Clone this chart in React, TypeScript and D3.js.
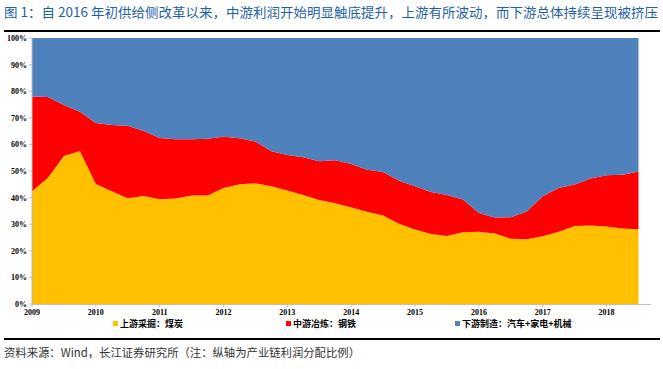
import React from "react";
import * as d3 from "d3";

const quarters = [
  "2009Q1","2009Q2","2009Q3","2009Q4","2010Q1","2010Q2","2010Q3","2010Q4",
  "2011Q1","2011Q2","2011Q3","2011Q4","2012Q1","2012Q2","2012Q3","2012Q4",
  "2013Q1","2013Q2","2013Q3","2013Q4","2014Q1","2014Q2","2014Q3","2014Q4",
  "2015Q1","2015Q2","2015Q3","2015Q4","2016Q1","2016Q2","2016Q3","2016Q4",
  "2017Q1","2017Q2","2017Q3","2017Q4","2018Q1","2018Q2","2018Q3",
];
const yearTicks = ["2009","2010","2011","2012","2013","2014","2015","2016","2017","2018"];
const yTicks = [0, 10, 20, 30, 40, 50, 60, 70, 80, 90, 100];

// 上游采掘：煤炭
const upstream = [
  42.4, 47.5, 55.6, 57.5, 45.1, 42.4, 39.8, 40.6, 39.4, 39.7, 40.8, 40.8, 43.6,
  45.0, 45.4, 44.3, 42.7, 41.0, 39.1, 37.9, 36.3, 34.7, 33.3, 30.2, 28.0, 26.3,
  25.6, 27.0, 27.2, 26.5, 24.5, 24.3, 25.5, 27.2, 29.3, 29.5, 29.1, 28.4, 28.1,
];
// 中游冶炼：钢铁
const midstream = [
  35.6, 30.3, 19.2, 14.8, 22.9, 24.9, 27.2, 24.4, 23.0, 22.2, 21.1, 21.3, 19.3,
  17.3, 15.7, 13.1, 13.3, 14.2, 14.6, 16.1, 16.3, 15.8, 16.3, 16.1, 16.3, 15.8,
  15.4, 12.3, 7.0, 6.0, 8.1, 10.5, 15.0, 16.4, 15.6, 17.7, 19.3, 20.2, 21.7,
];
// 下游制造：汽车+家电+机械
const downstream = [
  22.0, 22.2, 25.2, 27.7, 32.0, 32.7, 33.0, 35.0, 37.6, 38.1, 38.1, 37.9, 37.1,
  37.7, 38.9, 42.6, 44.0, 44.8, 46.3, 46.0, 47.4, 49.5, 50.4, 53.7, 55.7, 57.9,
  59.0, 60.7, 65.8, 67.5, 67.4, 65.2, 59.5, 56.4, 55.1, 52.8, 51.6, 51.4, 50.2,
];

const seriesNames = ["上游采掘：煤炭", "中游冶炼：钢铁", "下游制造：汽车+家电+机械"];
const seriesKeys = ["up", "mid", "down"];
const colors = ["#FFC000", "#FF0000", "#4F81BD"];

const title = "图 1：自 2016 年初供给侧改革以来，中游利润开始明显触底提升，上游有所波动，而下游总体持续呈现被挤压";
const source = "资料来源：Wind，长江证券研究所（注：纵轴为产业链利润分配比例）";

export default function App() {
  const W = 663, H = 369;
  const left = 32, bottom = 304, top = 38;
  const rows = quarters.map((q, i) => ({ q, up: upstream[i], mid: midstream[i], down: downstream[i] }));
  const stack = d3.stack<any>().keys(seriesKeys);
  const layers = stack(rows);
  const x = d3.scaleLinear().domain([0, quarters.length - 1]).range([left, 638.5]);
  const y = d3.scaleLinear().domain([0, 100]).range([bottom, top]);
  const area = d3.area<any>()
    .x((_d, i) => x(i))
    .y0((d) => y(d[0]))
    .y1((d) => y(d[1]));
  const serif = "'Liberation Serif', 'Times New Roman', serif";
  const cjk = "'Noto Sans CJK SC', 'Noto Sans', sans-serif";
  const legendX = [113, 286, 455];

  return (
    <svg width={W} height={H} style={{ position: "absolute", left: 0, top: 0, background: "#fff" }}>
      <text x={4} y={17} fontFamily={cjk} fontSize={13} fill="#1F5FA6" textLength={654} lengthAdjust="spacingAndGlyphs">{title}</text>
      <line x1={4} x2={660} y1={31} y2={31} stroke="#000" strokeWidth={2} />

      {layers.map((layer, k) => (
        <path key={k} d={area(layer as any) || ""} fill={colors[k]} />
      ))}

      <line x1={left} x2={left} y1={top} y2={bottom} stroke="#BFBFBF" strokeWidth={1} />
      <line x1={left} x2={651} y1={bottom + 0.5} y2={bottom + 0.5} stroke="#BFBFBF" strokeWidth={1} />
      {yTicks.map((t) => (
        <g key={t}>
          <line x1={left - 3} x2={left} y1={y(t)} y2={y(t)} stroke="#BFBFBF" />
          <text x={27} y={y(t) + 3} textAnchor="end" fontFamily={serif} fontWeight="bold" fontSize={8} fill="#000">{t}%</text>
        </g>
      ))}
      {yearTicks.map((label, k) => (
        <g key={label}>
          <line x1={x(k * 4)} x2={x(k * 4)} y1={bottom} y2={bottom + 3} stroke="#BFBFBF" />
          <text x={x(k * 4)} y={315} textAnchor="middle" fontFamily={serif} fontWeight="bold" fontSize={8} fill="#000">{label}</text>
        </g>
      ))}

      {seriesNames.map((name, k) => (
        <g key={name}>
          <rect x={legendX[k]} y={321} width={5} height={5} fill={colors[k]} />
          <text x={legendX[k] + 7} y={327} fontFamily={cjk} fontWeight="bold" fontSize={9} fill="#000">{name}</text>
        </g>
      ))}

      <line x1={4} x2={660} y1={339} y2={339} stroke="#000" strokeWidth={2} />
      <text x={4} y={357} fontFamily={cjk} fontSize={11.5} fill="#333" textLength={356} lengthAdjust="spacingAndGlyphs">{source}</text>
    </svg>
  );
}
